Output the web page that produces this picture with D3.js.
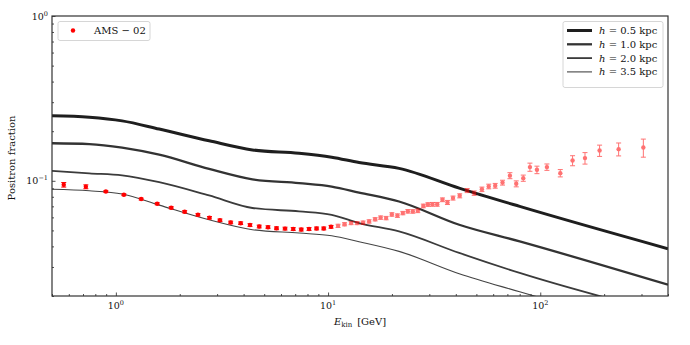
<!DOCTYPE html>
<html>
<head>
<meta charset="utf-8">
<script src="https://cdn.jsdelivr.net/npm/d3@7"></script>
<style>
  body { margin: 0; background: #fff; }
  svg text { font-family: "DejaVu Serif", "Liberation Serif", serif; fill: #111; }
</style>
</head>
<body>
<svg id="chart" width="690" height="345"></svg>
<script>
// model curves
const energyGrid = [0.5, 0.75, 1.07, 1.6, 2.75, 4.4, 7.3, 10.4, 14, 21.6, 41.5, 80, 400]
const frac05 = [0.248, 0.243, 0.231, 0.206, 0.175, 0.154, 0.147, 0.139, 0.129, 0.119, 0.0903, 0.0699, 0.0387]
const frac10 = [0.169, 0.167, 0.159, 0.144, 0.118, 0.102, 0.0968, 0.0923, 0.0849, 0.0749, 0.0541, 0.0429, 0.0234]
const frac20 = [0.115, 0.111, 0.108, 0.0982, 0.0815, 0.0684, 0.0652, 0.0622, 0.0554, 0.0493, 0.0365, 0.0276, 0.0155]
const frac35 = [0.0888, 0.0870, 0.0831, 0.0712, 0.0580, 0.0505, 0.0482, 0.0464, 0.0427, 0.0373, 0.0273, 0.0212, 0.0117]

const curveLabels = ["0.5", "1.0", "2.0", "3.5"]

// AMS-02 points
const amsEnergy = [0.568, 0.722, 0.897, 1.091, 1.316, 1.566, 1.823, 2.110, 2.437, 2.761,
    3.094, 3.476, 3.874, 4.287, 4.737, 5.212, 5.716, 6.270, 6.852, 7.475,
    8.135, 8.828, 9.544, 10.33, 11.15, 11.96, 12.84, 13.71, 14.63, 15.61,
    16.67, 17.69, 18.78, 19.98, 21.23, 22.51, 23.77, 25.09, 26.49, 28.12,
    29.56, 31.05, 32.68, 34.61, 36.53, 38.80, 41.73, 45.26, 48.84, 53.09,
    57.17, 61.34, 66.40, 71.95, 77.06, 83.17, 89.42, 96.47, 107.5, 124.3,
    142.0, 162.5, 190.4, 234.1, 306.1]
const amsFraction = [0.0946, 0.0920, 0.0861, 0.0823, 0.0775, 0.0726, 0.0686, 0.0649, 0.0622, 0.0597,
    0.0576, 0.0559, 0.0553, 0.0539, 0.0528, 0.0523, 0.0515, 0.0513, 0.0510, 0.0506,
    0.0510, 0.0514, 0.0514, 0.0526, 0.0533, 0.0545, 0.0554, 0.0554, 0.0557, 0.0567,
    0.0584, 0.0598, 0.0594, 0.0625, 0.0615, 0.0637, 0.0653, 0.0652, 0.0658, 0.0704,
    0.0718, 0.0720, 0.0720, 0.0767, 0.0739, 0.0786, 0.0811, 0.0873, 0.0842, 0.0888,
    0.0924, 0.0933, 0.0975, 0.1075, 0.0959, 0.1038, 0.1211, 0.1166, 0.1211, 0.1113,
    0.1327, 0.1373, 0.1526, 0.1556, 0.1591]
const amsError = [0.0030, 0.0025, 0.0010, 0.0010, 0.0010, 0.0010, 0.0010, 0.0010, 0.0010, 0.0010,
    0.0010, 0.0010, 0.0010, 0.0010, 0.0010, 0.0010, 0.0010, 0.0010, 0.0010, 0.0010,
    0.0010, 0.0010, 0.0010, 0.0010, 0.0012, 0.0012, 0.0012, 0.0012, 0.0013, 0.0013,
    0.0013, 0.0014, 0.0014, 0.0015, 0.0015, 0.0015, 0.0016, 0.0016, 0.0017, 0.0018,
    0.0018, 0.0019, 0.0019, 0.0020, 0.0021, 0.0022, 0.0023, 0.0025, 0.0026, 0.0028,
    0.0030, 0.0031, 0.0033, 0.0045, 0.0040, 0.0045, 0.0069, 0.0061, 0.0054, 0.0057,
    0.0093, 0.0110, 0.0120, 0.0140, 0.0200]

const xTickExps = [0, 1, 2]
const yTickExps = [-1, 0]

var W = 690, H = 345
var plot = {left: 52, right: 668, top: 16, bottom: 296}

var svg = d3.select("#chart")

var x = d3.scaleLog().domain([0.5, 400]).range([plot.left, plot.right])
var y = d3.scaleLog().domain([0.02, 1]).range([plot.bottom, plot.top])

svg.append("clipPath").attr("id", "clip")
    .append("rect")
    .attr("x", plot.left).attr("y", plot.top)
    .attr("width", plot.right - plot.left).attr("height", plot.bottom - plot.top)

var g = svg.append("g").attr("clip-path", "url(#clip)")

// model lines
var series = [frac05, frac10, frac20, frac35]
var lineWidths = [3, 2.3, 1.8, 1.1]
var lineColors = ["#1e1e1e", "#333", "#3b3b3b", "#444"]

var line = d3.line()
    .x(function(d) { return x(d[0]) })
    .y(function(d) { return y(d[1]) })
    .curve(d3.curveMonotoneX)

series.forEach(function(vals, i) {
    g.append("path")
        .datum(energyGrid.map(function(e, j) { return [e, vals[j]] }))
        .attr("d", line)
        .attr("fill", "none")
        .attr("stroke", lineColors[i])
        .attr("stroke-width", lineWidths[i])
})

// data points with error bars
var pts = amsEnergy.map(function(e, i) {
    return {e: e, v: amsFraction[i], err: amsError[i]}
})

var pt = g.selectAll("g.pt")
    .data(pts)
    .enter()
    .append("g")
    .attr("class", "pt")
    .attr("opacity", function(d) {
        if (d.e > 11)
            return 0.55
        return 1
    })

pt.append("line")
    .attr("x1", function(d) { return x(d.e) })
    .attr("x2", function(d) { return x(d.e) })
    .attr("y1", function(d) { return y(d.v - d.err) })
    .attr("y2", function(d) { return y(d.v + d.err) })
    .attr("stroke", "red").attr("stroke-width", 1)

pt.selectAll("line.cap")
    .data(function(d) { return [d.v - d.err, d.v + d.err].map(function(v) { return {e: d.e, v: v} }) })
    .enter()
    .append("line")
    .attr("class", "cap")
    .attr("x1", function(d) { return x(d.e) - 2.5 })
    .attr("x2", function(d) { return x(d.e) + 2.5 })
    .attr("y1", function(d) { return y(d.v) })
    .attr("y2", function(d) { return y(d.v) })
    .attr("stroke", "red").attr("stroke-width", 1)

pt.append("circle")
    .attr("cx", function(d) { return x(d.e) })
    .attr("cy", function(d) { return y(d.v) })
    .attr("r", 2.2)
    .attr("fill", "red")

// axes, ticks pointing inwards
var xAxis = d3.axisBottom(x).tickSizeOuter(0).tickFormat("")
var yAxis = d3.axisLeft(y).tickSizeOuter(0).tickFormat("")

var xMinor = []
for (var k = -1; k <= 2; k++)
    for (var m = 1; m < 10; m++) {
        var v = m * Math.pow(10, k)
        if (v >= 0.5 && v <= 400) xMinor.push(v)
    }
var yMinor = []
for (var k2 = -2; k2 <= 0; k2++)
    for (var m2 = 1; m2 < 10; m2++) {
        var v2 = m2 * Math.pow(10, k2)
        if (v2 >= 0.02 && v2 <= 1) yMinor.push(v2)
    }

function isDecade(d) {
    return Math.abs(Math.log10(d) - Math.round(Math.log10(d))) < 1e-9
}

var xg = svg.append("g").attr("transform", "translate(0," + plot.bottom + ")")
xg.call(xAxis.tickValues(xMinor))
xg.selectAll(".tick line").attr("y2", function(d) { return isDecade(d) ? -3.5 : -2 })
var yg = svg.append("g").attr("transform", "translate(" + plot.left + ",0)")
yg.call(yAxis.tickValues(yMinor))
yg.selectAll(".tick line").attr("x2", function(d) { return isDecade(d) ? 3.5 : 2 })
svg.selectAll(".domain").remove()
svg.selectAll(".tick line").attr("stroke", "#222").attr("stroke-width", 0.8)

// frame
svg.append("rect")
    .attr("x", plot.left).attr("y", plot.top)
    .attr("width", plot.right - plot.left).attr("height", plot.bottom - plot.top)
    .attr("fill", "none").attr("stroke", "#333").attr("stroke-width", 1.2)

// tick labels
xTickExps.forEach(function(p) {
    var t = svg.append("text")
        .attr("x", x(Math.pow(10, p)))
        .attr("y", 309)
        .attr("text-anchor", "middle")
        .attr("font-size", 9.5)
    t.append("tspan").text("10")
    t.append("tspan").attr("dy", -4).attr("font-size", 6.5).text(p)
})
yTickExps.forEach(function(p) {
    var t = svg.append("text")
        .attr("x", 48)
        .attr("y", y(Math.pow(10, p)) + 3.5)
        .attr("text-anchor", "end")
        .attr("font-size", 9.5)
    t.append("tspan").text("10")
    t.append("tspan").attr("dy", -4).attr("font-size", 6.5).text(p < 0 ? "\u2212" + (-p) : p)
})

// axis titles
var xl = svg.append("text")
    .attr("x", 360).attr("y", 325)
    .attr("text-anchor", "middle")
    .attr("font-size", 10)
xl.append("tspan").attr("font-style", "italic").text("E")
xl.append("tspan").attr("dy", 2).attr("font-size", 7).text("kin")
xl.append("tspan").attr("dy", -2).text("\u2002[GeV]")

svg.append("text")
    .attr("transform", "translate(15," + ((plot.top + plot.bottom) / 2 + 2) + ") rotate(-90)")
    .attr("text-anchor", "middle")
    .attr("font-size", 10)
    .text("Positron fraction")

// legend: data
var leg1 = svg.append("g")
leg1.append("rect")
    .attr("x", 58).attr("y", 21.5).attr("width", 92).attr("height", 19)
    .attr("rx", 2).attr("fill", "#fff").attr("fill-opacity", 0.8)
    .attr("stroke", "#ccc").attr("stroke-width", 0.8)
leg1.append("circle").attr("cx", 73).attr("cy", 30.5).attr("r", 2.2).attr("fill", "red")
leg1.append("text").attr("x", 94).attr("y", 34).attr("font-size", 10).text("AMS \u2212 02")

// legend: model curves
var leg2 = svg.append("g")
leg2.append("rect")
    .attr("x", 563).attr("y", 21.5).attr("width", 100).attr("height", 66)
    .attr("rx", 2).attr("fill", "#fff").attr("fill-opacity", 0.8)
    .attr("stroke", "#ccc").attr("stroke-width", 0.8)
curveLabels.forEach(function(lab, i) {
    var yy = 30.5 + i * 13.8
    leg2.append("line")
        .attr("x1", 567).attr("x2", 592).attr("y1", yy).attr("y2", yy)
        .attr("stroke", lineColors[i]).attr("stroke-width", lineWidths[i])
    var t = leg2.append("text").attr("x", 599).attr("y", yy + 3.5).attr("font-size", 10)
    t.append("tspan").attr("font-style", "italic").text("h")
    t.append("tspan").text(" = " + lab + " kpc")
})
</script>
</body>
</html>
